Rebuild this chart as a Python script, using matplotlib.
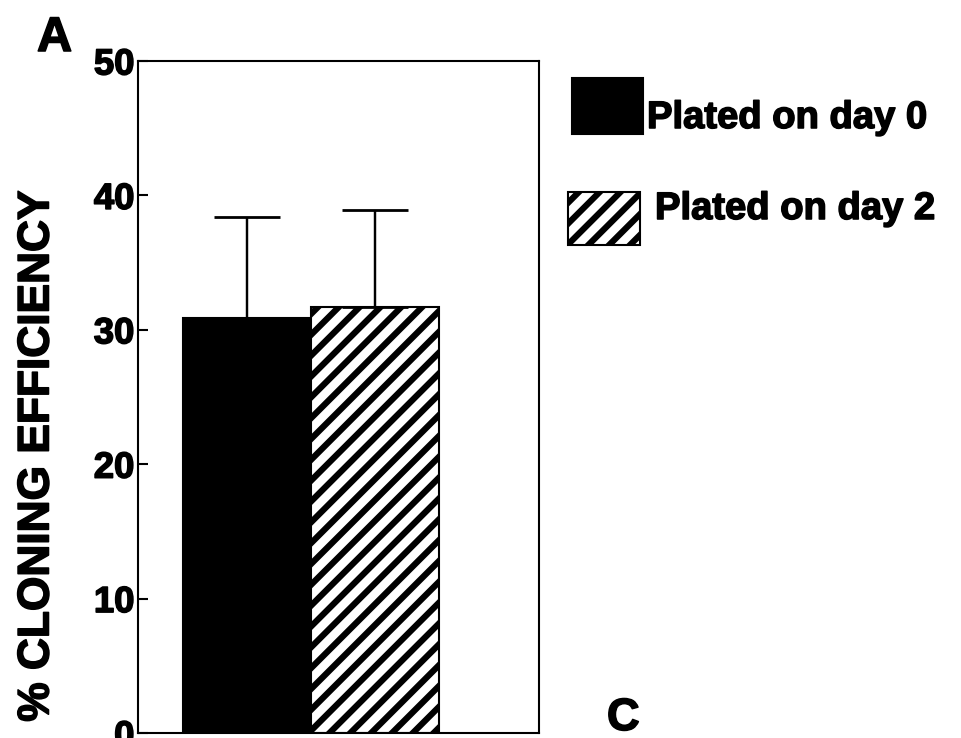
import matplotlib
matplotlib.use('Agg')
import matplotlib.pyplot as plt
from matplotlib.patches import Rectangle
import matplotlib.patheffects as pe

plt.rcParams['font.family'] = ['Liberation Sans', 'DejaVu Sans']
plt.rcParams['font.weight'] = 'bold'
plt.rcParams['hatch.linewidth'] = 3.6
plt.rcParams['hatch.color'] = 'black'

# ---- data ----
groups = ['Plated on day 0', 'Plated on day 2']
means = [30.9, 31.7]
err_up = [7.5, 7.2]
yticks = [0, 10, 20, 30, 40, 50]
ylabel = '% CLONING EFFICIENCY'
fills = ['black', 'white']
hatches = ['', '//']

DPI = 125
W, H = 961, 738
fig = plt.figure(figsize=(W / DPI, H / DPI), dpi=DPI)
ax = fig.add_axes([138 / W, 1 - 733 / H, 401 / W, 672 / H])

heavy = [pe.withStroke(linewidth=0.9, foreground='black')]

x = list(range(len(means)))
bars = ax.bar(x, means, width=1.0, color=fills, edgecolor='black', linewidth=1.2)
for b, h in zip(bars, hatches):
    b.set_hatch(h)

ax.errorbar(x, means, yerr=[[0] * len(means), err_up], fmt='none', ecolor='black',
            elinewidth=1.4, capsize=19, capthick=1.6, zorder=3)

ax.set_xlim(-0.852, 2.28)
ax.set_ylim(0, 50)
ax.set_yticks(yticks)
ax.set_yticklabels([str(t) for t in yticks])
ax.set_xticks([])
ax.tick_params(axis='y', direction='in', length=6, width=1.2, pad=2, labelsize=21)
for lab in ax.get_yticklabels():
    lab.set_path_effects(heavy)
for s in ax.spines.values():
    s.set_linewidth(1.2)

ax.set_ylabel(ylabel, fontsize=25.5, fontweight='bold', va='center')
ax.yaxis.set_label_coords((37 - 138) / 401, (733 - 456) / 672)
ax.yaxis.label.set_path_effects(heavy)

# legend (manual, figure pixel positions)
boxes = [(572, 78, 643, 134), (568, 192, 640, 245)]
text_pos = [(647, 128), (655, 219)]
for (x0, y0, x1, y1), fc, h, (tx, ty), lab in zip(boxes, fills, hatches, text_pos, groups):
    r = Rectangle((x0 / W, 1 - y1 / H), (x1 - x0) / W, (y1 - y0) / H,
                  transform=fig.transFigure, facecolor=fc, edgecolor='black',
                  linewidth=1.2, hatch=h)
    fig.patches.append(r)
    fig.text(tx / W, 1 - ty / H, lab, fontsize=22, fontweight='bold', va='baseline',
             ha='left', path_effects=heavy)

fig.text(37 / W, 1 - 51 / H, 'A', fontsize=28, fontweight='bold', va='baseline', ha='left',
         path_effects=heavy)
fig.text(607 / W, 1 - 730 / H, 'C', fontsize=26, fontweight='bold', va='baseline', ha='left',
         path_effects=heavy)

fig.savefig('out.png', dpi=DPI)
